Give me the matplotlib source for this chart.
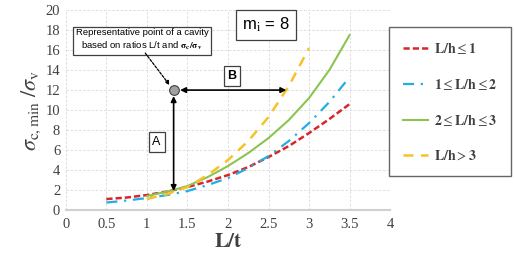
#!/usr/bin/env python3
"""Minimum cavity strength ratio vs L/t, grouped by L/h class (mi = 8)."""
import matplotlib
matplotlib.use("Agg")
import matplotlib.pyplot as plt

plt.rcParams["mathtext.fontset"] = "stix"

# L/h <= 1
x_red = [0.5, 0.75, 1.0, 1.25, 1.5, 1.75, 2.0, 2.25, 2.5, 2.75, 3.0, 3.25, 3.5]
y_red = [1.1, 1.25, 1.5, 1.85, 2.3, 2.85, 3.5, 4.3, 5.3, 6.4, 7.7, 9.1, 10.6]
# 1 <= L/h <= 2
x_blue = [0.5, 0.75, 1.0, 1.25, 1.5, 1.75, 2.0, 2.25, 2.5, 2.75, 3.0, 3.25, 3.5]
y_blue = [0.75, 0.95, 1.2, 1.5, 1.9, 2.5, 3.2, 4.2, 5.4, 6.9, 8.7, 10.8, 13.3]
# 2 <= L/h <= 3
x_green = [1.0, 1.25, 1.5, 1.75, 2.0, 2.25, 2.5, 2.75, 3.0, 3.25, 3.5]
y_green = [1.4, 1.85, 2.4, 3.3, 4.4, 5.7, 7.2, 9.0, 11.2, 14.0, 17.5]
# L/h > 3
x_yellow = [1.0, 1.25, 1.5, 1.75, 2.0, 2.25, 2.5, 2.75, 3.0]
y_yellow = [1.1, 1.6, 2.3, 3.5, 5.0, 6.9, 9.3, 12.4, 16.2]

point = (1.33, 12.0)
a_base = 1.9
b_end = 2.72

labels = [r"$\mathbf{L/h} \leq \mathbf{1}$",
          r"$\mathbf{1} \leq \mathbf{L/h} \leq \mathbf{2}$",
          r"$\mathbf{2} \leq \mathbf{L/h} \leq \mathbf{3}$",
          r"$\mathbf{L/h} > \mathbf{3}$"]

fig = plt.figure(figsize=(5.14, 2.59), dpi=100)
ax = fig.add_axes([0.128, 0.189, 0.631, 0.772])

ax.plot(x_red, y_red, color="#d9262b", ls=(0, (2.5, 1.2)), lw=1.8, label=labels[0])
ax.plot(x_blue, y_blue, color="#22aee0", ls=(0, (5, 3, 1, 3)), lw=1.6, label=labels[1])
ax.plot(x_green, y_green, color="#8cc44f", ls="-", lw=1.5, label=labels[2])
ax.plot(x_yellow, y_yellow, color="#f6c22a", ls=(0, (4, 3)), lw=1.8, label=labels[3])

ax.set_xlim(0, 4)
ax.set_ylim(0, 20)
ax.set_xticks([0, 0.5, 1, 1.5, 2, 2.5, 3, 3.5, 4])
ax.set_xticklabels(["0", "0.5", "1", "1.5", "2", "2.5", "3", "3.5", "4"])
ax.set_yticks(range(0, 21, 2))
ax.grid(True, color="#d9d9d9", ls=(0, (3, 2)), lw=0.6)
ax.set_axisbelow(True)
for s in ["top", "right", "left"]:
    ax.spines[s].set_visible(False)
ax.spines["bottom"].set_color("#d0d0d0")
ax.spines["bottom"].set_linewidth(1.5)
ax.tick_params(length=0, labelsize=10.5, labelcolor="#404040")
ax.tick_params(axis="x", pad=6)
ax.tick_params(axis="y", pad=4)
for t in ax.get_xticklabels() + ax.get_yticklabels():
    t.set_fontfamily("Liberation Serif")

ax.set_xlabel(r"$\mathbf{L/t}$", fontsize=15, color="#404040", labelpad=0)
ax.set_ylabel(r"$\sigma_{\mathrm{c,min}}\ /\sigma_{\mathrm{v}}$", fontsize=16,
              color="#404040", labelpad=2)

# annotations
ax.annotate("", xy=(point[0], point[1] - 0.6), xytext=(point[0], a_base),
            arrowprops=dict(arrowstyle="<|-|>", color="black", lw=1.2,
                            mutation_scale=8, shrinkA=0, shrinkB=0))
ax.annotate("", xy=(b_end, point[1]), xytext=(point[0] + 0.08, point[1]),
            arrowprops=dict(arrowstyle="<|-|>", color="black", lw=1.2,
                            mutation_scale=8, shrinkA=0, shrinkB=0))
ax.plot([point[0]], [point[1]], "o", ms=7, mfc="#a0a0a0", mec="#404040", mew=0.8, zorder=5)

box = dict(boxstyle="square,pad=0.3", fc="white", ec="#404040", lw=0.9)
ax.text(1.12, 6.8, "A", fontsize=9, ha="center", va="center", bbox=box,
        fontfamily="Liberation Sans")
ax.text(2.05, 13.4, "B", fontsize=9, ha="center", va="center", bbox=box,
        fontfamily="Liberation Sans", fontweight="bold")
ax.text(2.47, 18.5, r"m$_{\mathrm{i}}$ = 8", fontsize=12, ha="center", va="center",
        bbox=dict(boxstyle="square,pad=0.35", fc="white", ec="#404040", lw=0.9),
        fontfamily="Liberation Sans")
ax.text(0.94, 17.0,
        "Representative point of a cavity\n"
        r"based on ratios L/t and $\mathbf{\sigma_c / \sigma_v}$",
        fontsize=6.8, ha="center", va="center", linespacing=1.3,
        fontfamily="Liberation Sans",
        bbox=dict(boxstyle="square,pad=0.3", fc="white", ec="#404040", lw=0.9))
ax.annotate("", xy=(point[0] - 0.05, point[1] + 0.5), xytext=(0.98, 15.7),
            arrowprops=dict(arrowstyle="-|>", color="black", lw=0.9, ls=(0, (2, 1.2)),
                            mutation_scale=6, shrinkA=0, shrinkB=0))

leg = ax.legend(loc="upper left", bbox_to_anchor=(0.998, 0.915), frameon=True,
                fancybox=False, edgecolor="#404040", fontsize=10,
                handlelength=1.8, handletextpad=0.4, labelspacing=1.5,
                borderpad=1.0, borderaxespad=0)
leg.get_frame().set_linewidth(1.0)
for t in leg.get_texts():
    t.set_color("#404040")

fig.savefig("out.png", dpi=100)
